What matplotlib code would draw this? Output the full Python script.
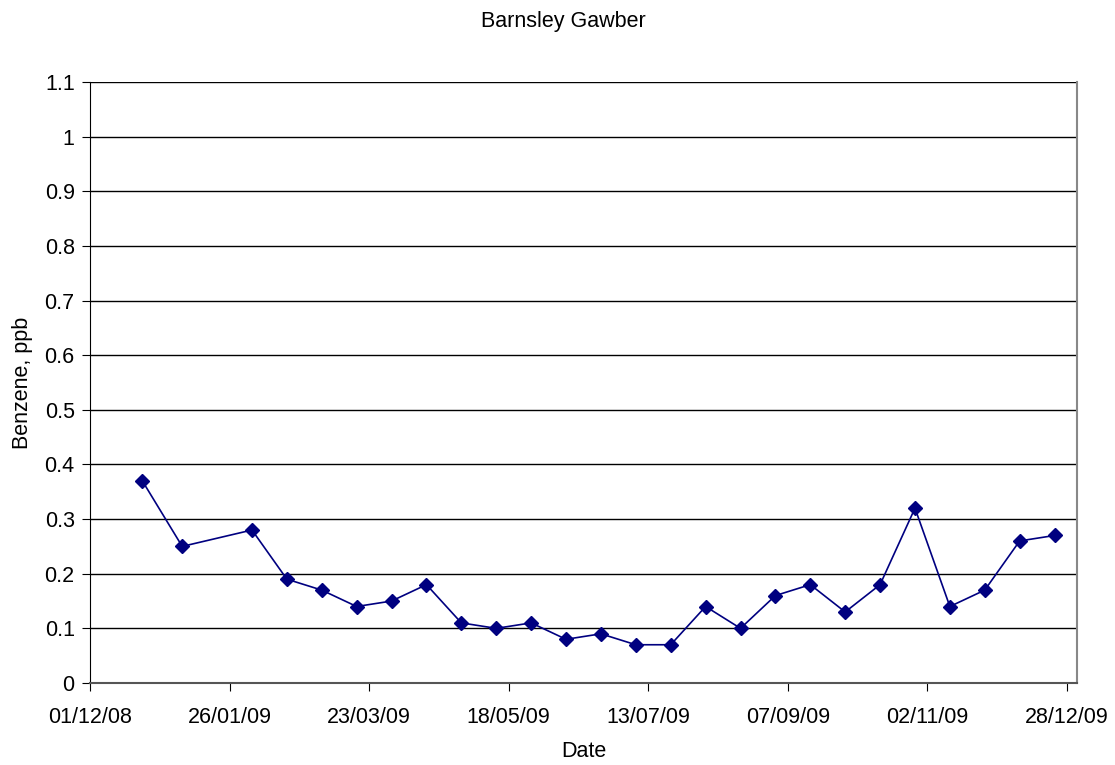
import numpy as np
import pandas as pd
import matplotlib
matplotlib.use('Agg')
import matplotlib.pyplot as plt
import matplotlib.dates as mdates

plt.rcParams['font.family'] = ['Liberation Sans', 'DejaVu Sans']

dates = ['2008-12-22', '2009-01-07', '2009-02-04', '2009-02-18', '2009-03-04',
         '2009-03-18', '2009-04-01', '2009-04-15', '2009-04-29', '2009-05-13',
         '2009-05-27', '2009-06-10', '2009-06-24', '2009-07-08', '2009-07-22',
         '2009-08-05', '2009-08-19', '2009-09-02', '2009-09-16', '2009-09-30',
         '2009-10-14', '2009-10-28', '2009-11-11', '2009-11-25', '2009-12-09',
         '2009-12-23']
benzene = [0.37, 0.25, 0.28, 0.19, 0.17, 0.14, 0.15, 0.18, 0.11, 0.10,
           0.11, 0.08, 0.09, 0.07, 0.07, 0.14, 0.10, 0.16, 0.18, 0.13,
           0.18, 0.32, 0.14, 0.17, 0.26, 0.27]
tick_dates = pd.date_range('2008-12-01', periods=8, freq='56D')

x = pd.to_datetime(dates)

fig = plt.figure(figsize=(11.15, 7.65), dpi=100)
ax = fig.add_axes([0.0807, 0.1072, 0.8852, 0.7856])

ax.plot(x, benzene, '-', color='#000080', linewidth=1.2,
        marker='D', markersize=7.5, markerfacecolor='#000080',
        markeredgecolor='#000080')

ax.set_xlim(pd.Timestamp('2008-12-01'), pd.Timestamp('2010-01-01'))
ax.set_ylim(0, 1.1)
ax.set_yticks(np.arange(0, 1.11, 0.1))
ax.set_yticklabels(['0', '0.1', '0.2', '0.3', '0.4', '0.5', '0.6', '0.7',
                    '0.8', '0.9', '1', '1.1'])
ax.set_xticks(tick_dates)
ax.xaxis.set_major_formatter(mdates.DateFormatter('%d/%m/%y'))
ax.grid(axis='y', color='black', linewidth=1)
ax.set_axisbelow(True)

ax.spines['top'].set_visible(False)
ax.spines['left'].set_color('black')
ax.spines['bottom'].set_color('#555555')
ax.spines['bottom'].set_linewidth(1.5)
ax.spines['right'].set_color('#888888')
ax.spines['right'].set_linewidth(1.5)

ax.tick_params(axis='both', labelsize=15.5, direction='out', length=6,
               color='black')
ax.tick_params(axis='x', pad=11)
ax.tick_params(axis='y', pad=5)

ax.set_xlabel('Date', fontsize=15.5, labelpad=10)
ax.set_ylabel('Benzene, ppb', fontsize=15.5, labelpad=8)
fig.text(0.505, 0.972, 'Barnsley Gawber', ha='center', va='center', fontsize=15.5)

fig.savefig('out.png', dpi=100)
